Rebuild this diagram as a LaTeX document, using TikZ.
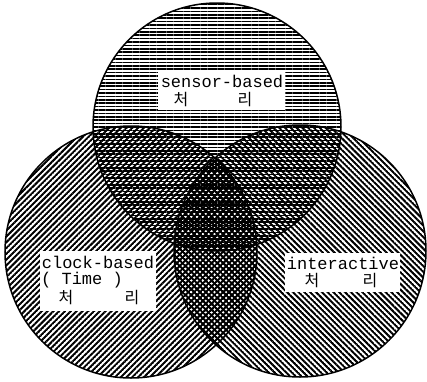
\documentclass[tikz,border=0pt]{standalone}
\usepackage{fontspec}
\setmonofont{Liberation Mono}
\newfontfamily\kr{Noto Sans CJK KR}
\usetikzlibrary{patterns.meta}
\tikzdeclarepattern{
  name=mylines,
  parameters={
    \pgfkeysvalueof{/pgf/pattern keys/size},
    \pgfkeysvalueof{/pgf/pattern keys/angle},
    \pgfkeysvalueof{/pgf/pattern keys/line width},
  },
  bounding box={
    (0,-0.5*\pgfkeysvalueof{/pgf/pattern keys/line width}) and
    (\pgfkeysvalueof{/pgf/pattern keys/size},
     0.5*\pgfkeysvalueof{/pgf/pattern keys/line width})},
  tile size={(\pgfkeysvalueof{/pgf/pattern keys/size},
              \pgfkeysvalueof{/pgf/pattern keys/size})},
  tile transformation={rotate=\pgfkeysvalueof{/pgf/pattern keys/angle}},
  defaults={
    size/.initial=5pt,
    angle/.initial=45,
    line width/.initial=.4pt,
  },
  code={
    \draw [line width=\pgfkeysvalueof{/pgf/pattern keys/line width}]
      (0,0) -- (\pgfkeysvalueof{/pgf/pattern keys/size},0);
  },
}
\tikzset{
  hfill/.style={pattern={mylines[size=3.4bp,angle=0,line width=1.6bp]}},
  nefill/.style={pattern={mylines[size=4.1bp,angle=45,line width=2bp]}},
  nwfill/.style={pattern={mylines[size=4.1bp,angle=-45,line width=2bp]}},
  ring/.style={draw=black,line width=1.5bp},
  labelbox/.style={fill=white,draw=none,inner sep=0pt,anchor=north west},
  lat/.style={font=\ttfamily\fontsize{17bp}{17bp}\selectfont,inner sep=0pt},
  han/.style={font=\kr\fontsize{16bp}{16bp}\selectfont,inner sep=0pt},
}
\begin{document}
\begin{tikzpicture}[x=1bp,y=-1bp]
\useasboundingbox (0,0) rectangle (427,382);
% pattern fills
\path[hfill] (217,127) circle [radius=124];
\path[nefill] (131,252) circle [radius=126];
\path[nwfill] (300,251) circle [radius=126];
% outlines
\draw[ring] (217,127) circle [radius=124];
\draw[ring] (131,252) circle [radius=126];
\draw[ring] (300,251) circle [radius=126];
% label boxes
\node[labelbox,minimum width=127bp,minimum height=38bp] (sbox) at (158,72) {};
\node[labelbox,minimum width=116bp,minimum height=60bp] (cbox) at (40,251) {};
\node[labelbox,minimum width=115bp,minimum height=39bp] (ibox) at (285,253) {};
% texts
\node[lat] (s1) at (222,81) {sensor-based};
\node[han] (s2) at (181,100) {처};
\node[han] (s3) at (245,100) {리};
\node[lat] (c1) at (98,262) {clock-based};
\node[lat,anchor=west] (c2) at (41,280) {( Time )};
\node[han] (c3) at (66,298) {처};
\node[han] (c4) at (132,298) {리};
\node[lat] (i1) at (343,263) {interactive};
\node[han] (i2) at (312,281) {처};
\node[han] (i3) at (370,281) {리};
\end{tikzpicture}
\end{document}
